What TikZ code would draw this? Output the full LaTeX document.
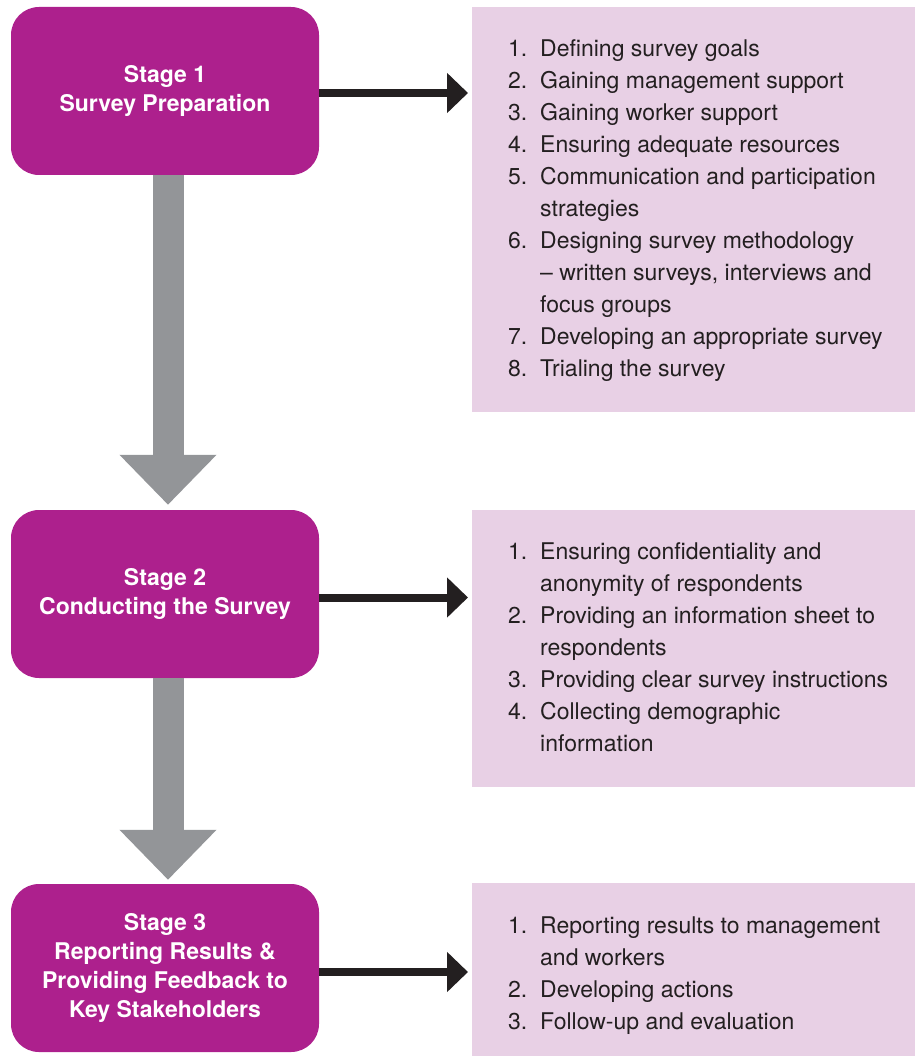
\documentclass[tikz,border=0pt]{standalone}
\usepackage{fontspec}
\setmainfont{TeX Gyre Heros}
\usetikzlibrary{arrows.meta}

\definecolor{stagefill}{RGB}{173,32,141}
\definecolor{panelfill}{RGB}{232,208,229}
\definecolor{flowgray}{RGB}{147,149,152}
\definecolor{inkdark}{RGB}{35,31,32}

\tikzset{
  stagebox/.style={draw=none, fill=stagefill, rounded corners=28pt,
    minimum width=308pt, minimum height=168pt, text=white, align=center,
    font=\fontsize{23}{29}\selectfont\bfseries, inner sep=0pt},
  panelbox/.style={draw=none, fill=panelfill, anchor=north west, inner sep=0pt,
    minimum width=443pt},
  listtext/.style={anchor=base west, inner sep=0pt, text=inkdark,
    font=\fontsize{23}{32}\selectfont},
  link/.style={draw=inkdark, line width=8pt,
    -{Triangle[length=21pt,width=39pt]}},
  flow/.style={draw=flowgray, line width=31pt,
    -{Triangle[length=50pt,width=94pt]}},
}

\newcommand{\itemrow}[2]{\makebox[32pt][l]{#1}#2}

\begin{document}
\begin{tikzpicture}[x=1pt,y=-1pt]
  \useasboundingbox (0,0) rectangle (915,1056);

  % pink panels on the right
  \node[panelbox, minimum height=405pt] (p1) at (472,7) {};
  \node[panelbox, minimum height=277pt] (p2) at (472,510) {};
  \node[panelbox, minimum height=173pt] (p3) at (472,883) {};

  % stage boxes
  \node[stagebox] (s1) at (165,91) {Stage 1\\Survey Preparation};
  \node[stagebox] (s2) at (165,594) {Stage 2\\Conducting the Survey};
  \node[stagebox] (s3) at (165,968) {Stage 3\\Reporting Results \&\\Providing Feedback to\\Key Stakeholders};

  % grey flow arrows between the stages
  \draw[flow] ([xshift=3pt]s1.south) -- ([xshift=3pt,yshift=5pt]s2.north);
  \draw[flow] ([xshift=3pt]s2.south) -- ([xshift=3pt,yshift=4pt]s3.north);

  % black arrows from each stage to its task list
  \draw[link] ([yshift=-2pt]s1.east) -- ([xshift=-4pt,yshift=-2pt]s1.east -| p1.west);
  \draw[link] ([yshift=-3.5pt]s2.east) -- ([xshift=-4pt,yshift=-3.5pt]s2.east -| p2.west);
  \draw[link] ([yshift=-4pt]s3.east) -- ([xshift=-4pt,yshift=-4pt]s3.east -| p3.west);

  % task lists
  \node[listtext] (t1) at (508,57) {\begin{tabular}[t]{@{}l@{}}
    \itemrow{1.}{Defining survey goals}\\
    \itemrow{2.}{Gaining management support}\\
    \itemrow{3.}{Gaining worker support}\\
    \itemrow{4.}{Ensuring adequate resources}\\
    \itemrow{5.}{Communication and participation}\\
    \itemrow{}{strategies}\\
    \itemrow{6.}{Designing survey methodology}\\
    \itemrow{}{– written surveys, interviews and}\\
    \itemrow{}{focus groups}\\
    \itemrow{7.}{Developing an appropriate survey}\\
    \itemrow{8.}{Trialing the survey}
  \end{tabular}};

  \node[listtext] (t2) at (508,559) {\begin{tabular}[t]{@{}l@{}}
    \itemrow{1.}{Ensuring confidentiality and}\\
    \itemrow{}{anonymity of respondents}\\
    \itemrow{2.}{Providing an information sheet to}\\
    \itemrow{}{respondents}\\
    \itemrow{3.}{Providing clear survey instructions}\\
    \itemrow{4.}{Collecting demographic}\\
    \itemrow{}{information}
  \end{tabular}};

  \node[listtext] (t3) at (508,933) {\begin{tabular}[t]{@{}l@{}}
    \itemrow{1.}{Reporting results to management}\\
    \itemrow{}{and workers}\\
    \itemrow{2.}{Developing actions}\\
    \itemrow{3.}{Follow-up and evaluation}
  \end{tabular}};
\end{tikzpicture}
\end{document}
